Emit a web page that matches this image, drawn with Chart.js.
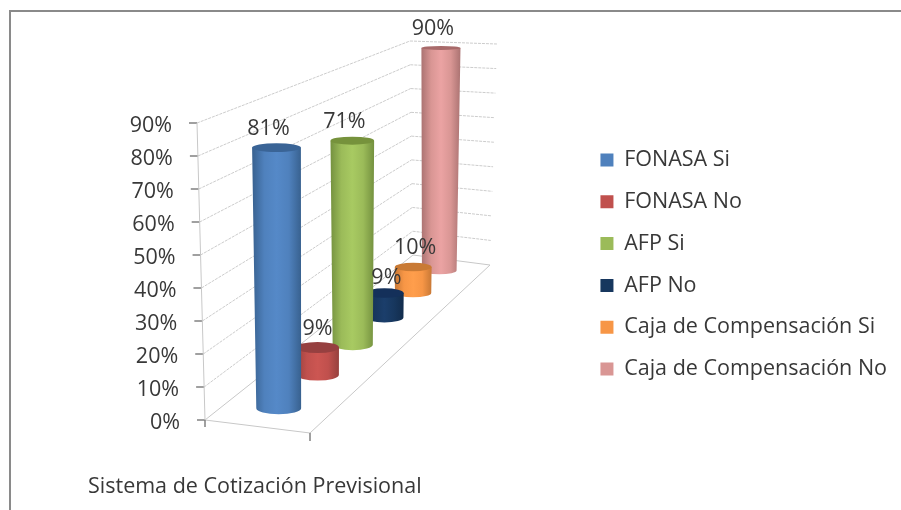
<!DOCTYPE html>
<html>
<head>
<meta charset="utf-8">
<style>
html, body { margin: 0; padding: 0; background: #fff; }
#wrap { position: relative; width: 901px; height: 510px; }
</style>
<script src="https://cdn.jsdelivr.net/npm/chart.js@4"></script>
</head>
<body>
<div id="wrap"><canvas id="chart" width="901" height="510"></canvas></div>
<script>
// Data
const categories = ['FONASA Si', 'FONASA No', 'AFP Si', 'AFP No', 'Caja de Compensación Si', 'Caja de Compensación No'];
const values = [81, 9, 71, 9, 10, 90];
const tickValues = [0, 10, 20, 30, 40, 50, 60, 70, 80, 90];
const axisTitle = 'Sistema de Cotización Previsional';

// Cylinder colours
const baseColors = ['#4F81BD', '#C0504D', '#9BBB59', '#17375E', '#F79646', '#D99694'];
const lightColors = ['#5589C8', '#CC5652', '#A8CA62', '#1B3E6B', '#FF9E4C', '#EBA3A3'];
const darkColors = ['#38618F', '#96413E', '#74913F', '#122C4C', '#C87835', '#AB7372'];
const capColors = ['#3A6496', '#964040', '#76923C', '#14305A', '#C97A35', '#A86A6A'];
const textColor = '#383838';
const chartFont = '"Open Sans", sans-serif';
const fontSize = 21.5;

// The box the 3D view sits in: floor and top corners on the canvas
const box = {
    fl: [205, 420], fr: [310, 433], bl: [413, 255], br: [490, 265],
    tfl: [197, 123], tfr: [312, 133], tbl: [410, 41], tbr: [497, 44]
};
const perspective = 1.35;
const radius = 0.22;
// nudges for the value labels, the original has them a bit off centre
const labelShiftX = [-8, 0, -8, 2, 2, -8];
const labelShiftY = [0, 0, 0, 4, 0, 0];

function mix(a, b, k) {
    return [a[0] + (b[0] - a[0]) * k, a[1] + (b[1] - a[1]) * k];
}

// s = across the front edge, t = depth, v = height, all 0 to 1
function project(s, t, v) {
    const f = perspective * t / (1 + (perspective - 1) * t);
    const floor = mix(mix(box.fl, box.fr, s), mix(box.bl, box.br, s), f);
    const top = mix(mix(box.tfl, box.tfr, s), mix(box.tbl, box.tbr, s), f);
    return mix(floor, top, v);
}

function line(ctx, a, b) {
    ctx.beginPath();
    ctx.moveTo(a[0], a[1]);
    ctx.lineTo(b[0], b[1]);
    ctx.stroke();
}

function drawFrame(ctx) {
    ctx.strokeStyle = '#8a8a8a';
    ctx.lineWidth = 2;
    ctx.beginPath();
    ctx.moveTo(10, 510);
    ctx.lineTo(10, 11);
    ctx.lineTo(901, 11);
    ctx.stroke();
}

function drawWalls(chart) {
    const ctx = chart.ctx;
    const ys = chart.scales.y;
    ctx.save();
    ctx.font = fontSize + 'px ' + chartFont;
    ctx.textAlign = 'right';
    ctx.textBaseline = 'middle';
    ys.ticks.forEach(tick => {
        const v = (ys.bottom - ys.getPixelForValue(tick.value)) / ys.height;
        const front = project(0, 0, v);
        const corner = project(0, 1, v);
        const back = project(1, 1, v);
        ctx.strokeStyle = '#cccccc';
        ctx.lineWidth = 1;
        if (v > 0) {
            ctx.setLineDash([3, 1]);
            line(ctx, front, corner);
            line(ctx, corner, back);
            ctx.setLineDash([]);
        }
        ctx.strokeStyle = '#808080';
        ctx.lineWidth = 1.5;
        line(ctx, [front[0] - 8, front[1]], front);
        ctx.fillStyle = textColor;
        ctx.fillText(tick.label, front[0] - 25, front[1] + 3);
    });
    // floor outline and the left edge
    ctx.strokeStyle = '#c8c8c8';
    ctx.lineWidth = 1;
    line(ctx, box.fl, box.tfl);
    line(ctx, box.fl, box.fr);
    line(ctx, box.fr, box.br);
    line(ctx, box.br, box.bl);
    line(ctx, box.bl, box.fl);
    ctx.strokeStyle = '#808080';
    ctx.lineWidth = 1.5;
    line(ctx, box.fl, [box.fl[0], box.fl[1] + 7]);
    line(ctx, box.fr, [box.fr[0], box.fr[1] + 8]);
    ctx.restore();
}

function drawCylinder(ctx, i, t, v) {
    const c0 = project(0.5, t, 0);
    const c1 = project(0.5, t, v);
    const rx0 = (project(0.5 + radius, t, 0)[0] - project(0.5 - radius, t, 0)[0]) / 2;
    const rx1 = (project(0.5 + radius, t, v)[0] - project(0.5 - radius, t, v)[0]) / 2;
    const f = (box.fl[1] - project(0, t, 0)[1]) / (box.fl[1] - box.bl[1]);
    const ry0 = 6 - 2.5 * f * f;
    const ry1 = ry0 - 1.8 * v;

    const left = Math.min(c0[0] - rx0, c1[0] - rx1);
    const right = Math.max(c0[0] + rx0, c1[0] + rx1);
    const grad = ctx.createLinearGradient(left, 0, right, 0);
    grad.addColorStop(0, darkColors[i]);
    grad.addColorStop(0.25, baseColors[i]);
    grad.addColorStop(0.5, lightColors[i]);
    grad.addColorStop(0.75, baseColors[i]);
    grad.addColorStop(1, darkColors[i]);

    ctx.fillStyle = grad;
    ctx.beginPath();
    ctx.moveTo(c1[0] - rx1, c1[1]);
    ctx.lineTo(c0[0] - rx0, c0[1]);
    ctx.ellipse(c0[0], c0[1], rx0, ry0, 0, Math.PI, 0, true);
    ctx.lineTo(c1[0] + rx1, c1[1]);
    ctx.closePath();
    ctx.fill();

    ctx.fillStyle = capColors[i];
    ctx.beginPath();
    ctx.ellipse(c1[0], c1[1], rx1, ry1, 0, 0, Math.PI * 2);
    ctx.fill();
}

const cylinderPlugin = {
    id: 'cylinders',
    beforeDraw(chart) {
        drawFrame(chart.ctx);
        drawWalls(chart);
    },
    // the bars are laid out by Chart.js, only the drawing is replaced
    beforeDatasetDraw(chart, args) {
        const ctx = chart.ctx;
        const xs = chart.scales.x;
        const ys = chart.scales.y;
        const bars = args.meta.data;
        const places = bars.map(bar => ({
            t: (bar.x - xs.left) / xs.width,
            v: (ys.bottom - bar.y) / ys.height
        }));
        ctx.save();
        // back to front
        for (let i = bars.length - 1; i >= 0; i--) {
            drawCylinder(ctx, i, places[i].t, places[i].v);
        }
        ctx.font = fontSize + 'px ' + chartFont;
        ctx.textAlign = 'center';
        ctx.textBaseline = 'middle';
        ctx.fillStyle = textColor;
        bars.forEach((bar, i) => {
            const p = project(0.5, places[i].t, places[i].v);
            ctx.fillText(values[i] + '%', p[0] + labelShiftX[i], p[1] - 19 + labelShiftY[i]);
        });
        ctx.restore();
        return false;
    }
};

new Chart(document.getElementById('chart'), {
    type: 'bar',
    data: {
        labels: categories,
        datasets: [{ data: values, backgroundColor: baseColors }]
    },
    plugins: [cylinderPlugin],
    options: {
        responsive: false,
        animation: false,
        layout: { padding: { left: 88, right: 4, top: 25, bottom: 6 } },
        scales: {
            x: {
                grid: { display: false },
                border: { display: false },
                ticks: { display: false },
                title: {
                    display: true,
                    text: axisTitle,
                    align: 'start',
                    color: textColor,
                    font: { family: chartFont, size: fontSize }
                }
            },
            y: {
                display: false,
                min: tickValues[0],
                max: tickValues[tickValues.length - 1],
                afterBuildTicks(scale) {
                    scale.ticks = tickValues.map(value => ({ value }));
                },
                ticks: { callback: value => value + '%' }
            }
        },
        plugins: {
            tooltip: { enabled: false },
            legend: {
                position: 'right',
                labels: {
                    boxWidth: 13,
                    boxHeight: 13,
                    padding: 20.3,
                    color: textColor,
                    font: { family: chartFont, size: fontSize },
                    generateLabels: () => categories.map((name, i) => ({
                        text: name,
                        fillStyle: baseColors[i],
                        strokeStyle: baseColors[i],
                        fontColor: textColor,
                        lineWidth: 0,
                        index: i
                    }))
                }
            }
        }
    }
});
</script>
</body>
</html>
